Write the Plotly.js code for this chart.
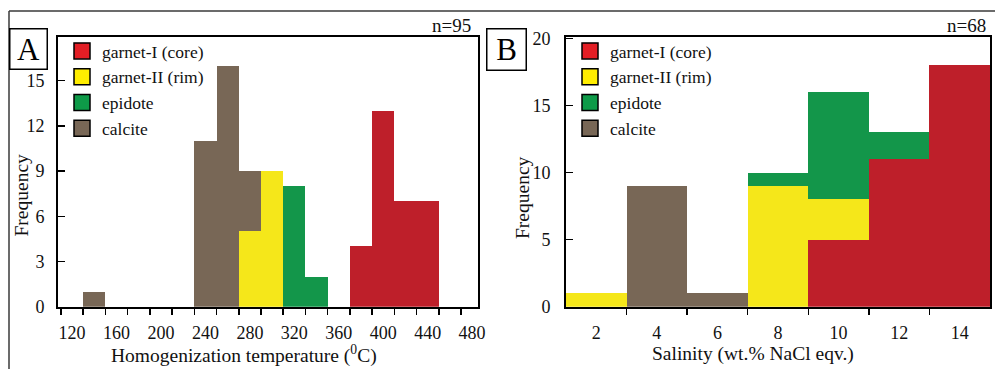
<!DOCTYPE html>
<html>
<head>
<meta charset="utf-8">
<script src="https://cdn.plot.ly/plotly-3.0.1.min.js"></script>
<style>html,body{margin:0;padding:0;background:#fff;}#chart{width:995px;height:369px;}</style>
</head>
<body>
<div id="chart"></div>
<script>
// ---------- data ----------
const seriesNames = ['garnet-I (core)', 'garnet-II (rim)', 'epidote', 'calcite'];
const barColors = ['#BE1F2A', '#F5E71A', '#13964A', '#786756'];
const swatchColors = ['#E31E25', '#FFED00', '#0E9A48', '#786756'];

// Panel A: homogenization temperature (bin centres, 20 degC bins)
const tempCenters = [140, 240, 260, 280, 300, 320, 340, 380, 400, 420, 440];
const garnetI_A  = [0, 0, 0, 0, 0, 0, 0, 4, 13, 7, 7];
const garnetII_A = [0, 0, 0, 5, 9, 0, 0, 0, 0, 0, 0];
const epidote_A  = [0, 0, 0, 0, 0, 8, 2, 0, 0, 0, 0];
const calcite_A  = [1, 11, 16, 4, 0, 0, 0, 0, 0, 0, 0];
const tempLabels = [120, 160, 200, 240, 280, 320, 360, 400, 440, 480];
const tempEdges  = [110,130,150,170,190,210,230,250,270,290,310,330,350,370,390,410,430,450,470];
const freqTicksA = [0, 3, 6, 9, 12, 15];

// Panel B: salinity (bin centres, 2 wt.% bins)
const salCenters = [2, 4, 6, 8, 10, 12, 14];
const garnetI_B  = [0, 0, 0, 0, 5, 11, 18];
const garnetII_B = [1, 0, 0, 9, 3, 0, 0];
const epidote_B  = [0, 0, 0, 1, 8, 2, 0];
const calcite_B  = [0, 9, 1, 0, 0, 0, 0];
const salLabels  = [2, 4, 6, 8, 10, 12, 14];
const salEdges   = [3, 5, 7, 9, 11, 13];
const freqTicksB = [0, 5, 10, 15, 20];

// ---------- traces ----------
const seriesA = [garnetI_A, garnetII_A, epidote_A, calcite_A];
const seriesB = [garnetI_B, garnetII_B, epidote_B, calcite_B];
const traces = [];
seriesA.forEach((vals, i) => traces.push({
  type: 'bar', x: tempCenters, y: vals, width: 20, xaxis: 'x', yaxis: 'y',
  name: seriesNames[i], showlegend: false, hoverinfo: 'x+y',
  marker: {color: barColors[i], line: {width: 0}}
}));
seriesB.forEach((vals, i) => traces.push({
  type: 'bar', x: salCenters, y: vals, width: 2, xaxis: 'x2', yaxis: 'y2',
  name: seriesNames[i], showlegend: false, hoverinfo: 'x+y',
  marker: {color: barColors[i], line: {width: 0}}
}));
// legend entries
['legend', 'legend2'].forEach((lg, k) => {
  seriesNames.forEach((nm, i) => traces.push({
    type: 'scatter', mode: 'markers', x: [null], y: [null],
    xaxis: k ? 'x2' : 'x', yaxis: k ? 'y2' : 'y',
    name: nm, legend: lg, showlegend: true,
    marker: {symbol: 'square', size: 16, color: swatchColors[i], line: {color: '#000', width: 1.5}}
  }));
});

const W = 995, H = 369;
const px = v => v / W, py = v => 1 - v / H;
const font = 'Liberation Serif, Times New Roman, serif';

const axisCommon = {
  showline: true, linecolor: '#000', linewidth: 2, mirror: true,
  showgrid: false, zeroline: false, tickcolor: '#000', tickwidth: 1.5,
  tickfont: {family: font, size: 18, color: '#111'}, fixedrange: true
};

const legendCommon = {
  xanchor: 'left', yanchor: 'top', traceorder: 'normal',
  bgcolor: 'rgba(0,0,0,0)', borderwidth: 0,
  font: {family: font, size: 17.5, color: '#111'}, itemclick: false, itemdoubleclick: false
};

const layout = {
  width: W, height: H, margin: {l: 0, r: 0, t: 0, b: 0},
  paper_bgcolor: '#fff', plot_bgcolor: 'rgba(0,0,0,0)',
  barmode: 'stack', bargap: 0, showlegend: true,
  font: {family: font, color: '#111'},
  xaxis: Object.assign({}, axisCommon, {
    domain: [px(58), px(478)], anchor: 'y', range: [107.3, 485.3],
    tickmode: 'array', tickvals: tempLabels, ticks: '', ticklabelstandoff: 9,
    minor: {tickmode: 'array', tickvals: tempEdges, ticks: 'outside', ticklen: 6, tickwidth: 1.5, tickcolor: '#000'}
  }),
  yaxis: Object.assign({}, axisCommon, {
    domain: [py(306.7), py(37)], anchor: 'x', range: [0, 17.9],
    tickmode: 'array', tickvals: freqTicksA, ticks: 'inside', ticklen: 7, ticklabelstandoff: 8
  }),
  xaxis2: Object.assign({}, axisCommon, {
    domain: [px(566), px(990)], anchor: 'y2', range: [1, 15],
    tickmode: 'array', tickvals: salLabels, ticks: '', ticklabelstandoff: 9,
    minor: {tickmode: 'array', tickvals: salEdges, ticks: 'outside', ticklen: 6, tickwidth: 1.5, tickcolor: '#000'}
  }),
  yaxis2: Object.assign({}, axisCommon, {
    domain: [py(306.7), py(37)], anchor: 'x2', range: [0, 20.1],
    tickmode: 'array', tickvals: freqTicksB, ticks: 'inside', ticklen: 7, ticklabelstandoff: 10
  }),
  legend: Object.assign({}, legendCommon, {x: px(62), y: py(33)}),
  legend2: Object.assign({}, legendCommon, {x: px(570), y: py(33)}),
  shapes: [
    {type: 'line', xref: 'paper', yref: 'paper', x0: px(9), x1: 1, y0: py(11), y1: py(11), line: {color: '#3a3a3a', width: 1.5}},
    {type: 'line', xref: 'paper', yref: 'paper', x0: px(9), x1: px(9), y0: py(11), y1: 0, line: {color: '#3a3a3a', width: 1.5}}
  ],
  annotations: [
    {text: 'A', xref: 'paper', yref: 'paper', x: px(28.5), y: py(49), xanchor: 'center', yanchor: 'middle',
     showarrow: false, font: {family: font, size: 31, color: '#000'}, width: 36, height: 39,
     bgcolor: '#fff', bordercolor: '#000', borderwidth: 1.5, borderpad: 0},
    {text: 'B', xref: 'paper', yref: 'paper', x: px(506.5), y: py(49.5), xanchor: 'center', yanchor: 'middle',
     showarrow: false, font: {family: font, size: 31, color: '#000'}, width: 38, height: 40,
     bgcolor: '#fff', bordercolor: '#000', borderwidth: 1.5, borderpad: 0},
    {text: 'n=95', xref: 'paper', yref: 'paper', x: px(473), y: py(25), xanchor: 'right', yanchor: 'middle',
     showarrow: false, font: {family: font, size: 19, color: '#111'}},
    {text: 'n=68', xref: 'paper', yref: 'paper', x: px(988), y: py(25), xanchor: 'right', yanchor: 'middle',
     showarrow: false, font: {family: font, size: 19, color: '#111'}},
    {text: 'Homogenization temperature (<sup>0</sup>C)', xref: 'paper', yref: 'paper', x: px(243.5), y: py(354),
     xanchor: 'center', yanchor: 'middle', showarrow: false, font: {family: font, size: 19.5, color: '#111'}},
    {text: 'Salinity (wt.% NaCl eqv.)', xref: 'paper', yref: 'paper', x: px(752.5), y: py(354),
     xanchor: 'center', yanchor: 'middle', showarrow: false, font: {family: font, size: 19.5, color: '#111'}},
    {text: 'Frequency', xref: 'paper', yref: 'paper', x: px(20.5), y: py(195), textangle: -90,
     xanchor: 'center', yanchor: 'middle', showarrow: false, font: {family: font, size: 19.5, color: '#111'}},
    {text: 'Frequency', xref: 'paper', yref: 'paper', x: px(522.5), y: py(197.5), textangle: -90,
     xanchor: 'center', yanchor: 'middle', showarrow: false, font: {family: font, size: 19.5, color: '#111'}}
  ]
};

Plotly.newPlot('chart', traces, layout, {staticPlot: true, displayModeBar: false});
</script>
</body>
</html>
